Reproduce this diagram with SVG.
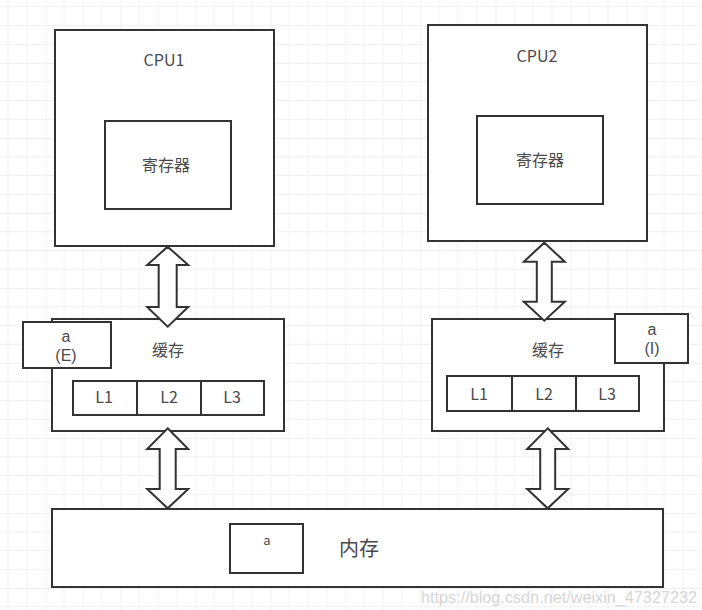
<svg xmlns="http://www.w3.org/2000/svg" width="702" height="610" viewBox="0 0 702 610">
  <defs>
    <pattern id="grid" patternUnits="userSpaceOnUse" x="45.5" y="63" width="75" height="75">
      <path d="M18.75 0V75M37.5 0V75M56.25 0V75M0 18.75H75M0 37.5H75M0 56.25H75" stroke="#f0f0f0" stroke-width="1" fill="none"/>
      <path d="M0 0V75M0 0H75" stroke="#e2e2e2" stroke-width="1" fill="none"/>
    </pattern>
    <style>
      .box { fill: #ffffff; stroke: #333333; stroke-width: 2; }
      .arrow { fill: #ffffff; stroke: #333333; stroke-width: 2; stroke-linejoin: miter; }
      .t { font-family: "Noto Sans CJK SC", "Noto Sans", sans-serif; fill: #4a4a4a; text-anchor: middle; font-size: 16px; }
      .lbl { font-family: "Liberation Sans", "Noto Sans", sans-serif; fill: #4a4a4a; text-anchor: middle; font-size: 16px; }
      .big { font-size: 20px; }
      .small { font-size: 13px; }
      .wm { font-family: "Liberation Sans", sans-serif; font-size: 16px; fill: #d6d6d6; }
    </style>
  </defs>
  <rect x="0" y="0" width="702" height="610" fill="#ffffff"/>
  <rect x="0" y="0" width="702" height="610" fill="url(#grid)"/>

  <g id="cpu1">
    <rect class="box" x="55" y="30" width="219" height="216"/>
    <text class="t" x="164" y="66">CPU1</text>
  </g>
  <g id="reg1">
    <rect class="box" x="105" y="121" width="126" height="88"/>
    <text class="t" x="166" y="171">寄存器</text>
  </g>

  <g id="cpu2">
    <rect class="box" x="428" y="25" width="219" height="216"/>
    <text class="t" x="537" y="62">CPU2</text>
  </g>
  <g id="reg2">
    <rect class="box" x="477" y="116" width="126" height="88"/>
    <text class="t" x="540" y="166">寄存器</text>
  </g>

  <g id="cache1">
    <rect class="box" x="52" y="319" width="232" height="112"/>
    <text class="t" x="168" y="356">缓存</text>
  </g>
  <g id="cache1-l">
    <rect class="box" x="73" y="381" width="64" height="34"/>
    <rect class="box" x="137" y="381" width="64" height="34"/>
    <rect class="box" x="201" y="381" width="63" height="34"/>
    <text class="t" x="104" y="403">L1</text>
    <text class="t" x="169" y="403">L2</text>
    <text class="t" x="232" y="403">L3</text>
  </g>
  <g id="a-e">
    <rect class="box" x="23" y="322" width="88" height="46"/>
    <text class="lbl" x="66" y="342">a</text>
    <text class="lbl" x="66" y="361">(E)</text>
  </g>

  <g id="cache2">
    <rect class="box" x="432" y="319" width="232" height="112"/>
    <text class="t" x="548" y="356">缓存</text>
  </g>
  <g id="cache2-l">
    <rect class="box" x="447" y="376" width="65" height="35"/>
    <rect class="box" x="512" y="376" width="64" height="35"/>
    <rect class="box" x="576" y="376" width="63" height="35"/>
    <text class="t" x="479" y="400">L1</text>
    <text class="t" x="544" y="400">L2</text>
    <text class="t" x="607" y="400">L3</text>
  </g>
  <g id="a-i">
    <rect class="box" x="615" y="314" width="73" height="49"/>
    <text class="lbl" x="652" y="335">a</text>
    <text class="lbl" x="652" y="354">(I)</text>
  </g>

  <g id="memory">
    <rect class="box" x="52" y="509" width="611" height="78"/>
    <text class="t big" x="359" y="556">内存</text>
  </g>
  <g id="mem-a">
    <rect class="box" x="230" y="524" width="73" height="49"/>
    <text class="t small" x="267" y="545">a</text>
  </g>

  <g id="connectors">
    <path class="arrow" d="M167.7 246.7L188.2 265L176.7 265L176.7 307L188.2 307L167.7 326.7L147.2 307L158.7 307L158.7 265L147.2 265Z"/>
    <path class="arrow" d="M544.3 242.7L564.8 261.7L551.8 261.7L551.8 301.7L564.8 301.7L544.3 320.7L523.8 301.7L536.8 301.7L536.8 261.7L523.8 261.7Z"/>
    <path class="arrow" d="M167.7 428.3L188.2 449L175.7 449L175.7 489L188.2 489L167.7 508.3L147.2 489L159.7 489L159.7 449L147.2 449Z"/>
    <path class="arrow" d="M547.7 428.3L568.2 449L555.2 449L555.2 489L568.2 489L547.7 508.3L527.2 489L540.2 489L540.2 449L527.2 449Z"/>
  </g>

  <text class="wm" x="421" y="603" textLength="276" lengthAdjust="spacingAndGlyphs">https://blog.csdn.net/weixin_47327232</text>
</svg>
